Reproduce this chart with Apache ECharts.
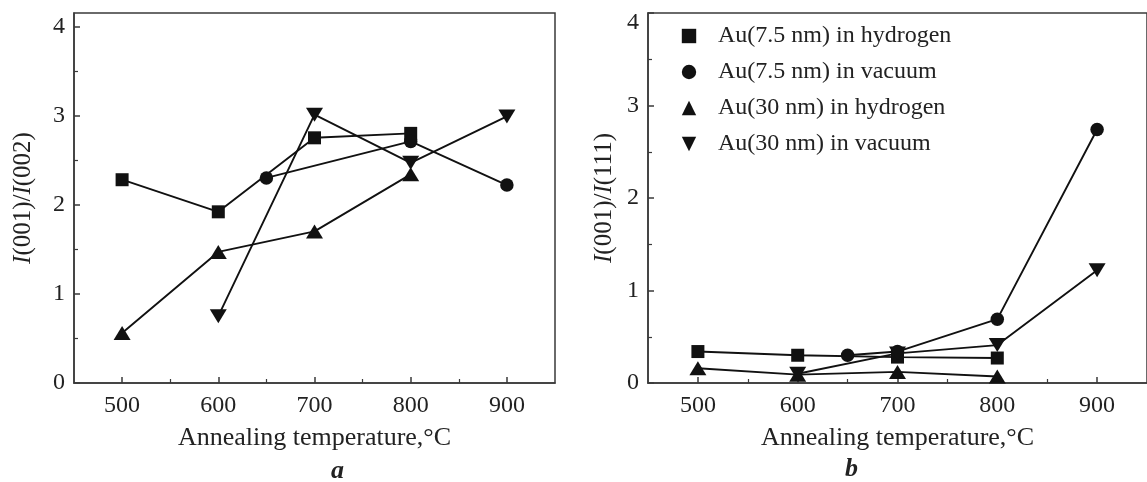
<!DOCTYPE html>
<html>
<head>
<meta charset="utf-8">
<script src="https://cdn.jsdelivr.net/npm/echarts@6/dist/echarts.min.js"></script>
<style>
html,body{margin:0;padding:0;background:#fff;}
#c{width:1147px;height:482px;}
</style>
</head>
<body>
<div id="c"></div>
<script>
// ---- data ----
var seriesNames = ['Au(7.5 nm) in hydrogen', 'Au(7.5 nm) in vacuum', 'Au(30 nm) in hydrogen', 'Au(30 nm) in vacuum'];
var xTicks = [500, 600, 700, 800, 900];
var xMinorTicks = [550, 650, 750, 850];
var yTicks = [0, 1, 2, 3, 4];
var yMinorTicks = [0.5, 1.5, 2.5, 3.5];

// panel a: I(001)/I(002)
var aTempH75 = [500, 600, 700, 800];  var aH75 = [2.28, 1.92, 2.75, 2.80];
var aTempV75 = [650, 800, 900];       var aV75 = [2.30, 2.71, 2.22];
var aTempH30 = [500, 600, 700, 800];  var aH30 = [0.56, 1.47, 1.70, 2.34];
var aTempV30 = [600, 700, 800, 900];  var aV30 = [0.75, 3.01, 2.47, 2.99];

// panel b: I(001)/I(111)
var bTempH75 = [500, 600, 700, 800];  var bH75 = [0.34, 0.30, 0.28, 0.27];
var bTempV75 = [650, 700, 800, 900];  var bV75 = [0.30, 0.34, 0.69, 2.74];
var bTempH30 = [500, 600, 700, 800];  var bH30 = [0.16, 0.09, 0.12, 0.07];
var bTempV30 = [600, 700, 800, 900];  var bV30 = [0.10, 0.32, 0.41, 1.22];

// ---- chart ----
var FONT = '"Liberation Serif", "DejaVu Serif", serif';
var INK = '#111';
var FRAME = '#3a3a3a';
var symbols = ['rect', 'circle', 'triangle', 'path://M0,0 L10,0 L5,8 Z'];
var symSizes = [13, 13.5, [17, 14], [17, 14]];

function pairs(xs, ys) { return xs.map(function (x, i) { return [x, ys[i]]; }); }

var chart = echarts.init(document.getElementById('c'), null, {renderer: 'canvas'});

function xAxes(gi) {
  return [{
    gridIndex: gi, type: 'value', min: 450, max: 950, position: 'bottom',
    name: 'Annealing temperature,°C', nameLocation: 'middle', nameGap: 42,
    nameTextStyle: {fontFamily: FONT, fontSize: 26, color: '#222'},
    axisLine: {show: true, lineStyle: {color: FRAME, width: 1.5}},
    axisTick: {show: true, inside: true, length: 6, customValues: xTicks, lineStyle: {color: FRAME, width: 1.5}},
    axisLabel: {customValues: xTicks, fontFamily: FONT, fontSize: 24, color: '#222', margin: 11},
    splitLine: {show: false}
  }, {
    gridIndex: gi, type: 'value', min: 450, max: 950, position: 'bottom',
    axisLine: {show: false},
    axisTick: {show: true, inside: true, length: 4, customValues: xMinorTicks, lineStyle: {color: FRAME, width: 1.2}},
    axisLabel: {show: false},
    splitLine: {show: false}
  }];
}
function yAxes(gi, max, nameRich, gap, shiftTop) {
  return [{
    gridIndex: gi, type: 'value', min: 0, max: max, position: 'left',
    name: nameRich, nameLocation: 'middle', nameGap: gap, nameRotate: 90,
    nameTextStyle: {fontFamily: FONT, fontSize: 25, color: '#222',
      rich: {i: {fontFamily: FONT, fontSize: 25, fontStyle: 'italic', color: '#222'}}},
    axisLine: {show: true, lineStyle: {color: FRAME, width: 1.5}},
    axisTick: {show: true, inside: true, length: 6, customValues: yTicks, lineStyle: {color: FRAME, width: 1.5}},
    axisLabel: {
      customValues: yTicks, fontFamily: FONT, fontSize: 24, color: '#222', margin: 9,
      formatter: function (v) { return (shiftTop && v === 4) ? '{t|4}' : String(v); },
      rich: {t: {fontFamily: FONT, fontSize: 24, color: '#222', padding: [20, 0, 0, 0]}}
    },
    splitLine: {show: false}
  }, {
    gridIndex: gi, type: 'value', min: 0, max: max, position: 'left',
    axisLine: {show: false},
    axisTick: {show: true, inside: true, length: 4, customValues: yMinorTicks, lineStyle: {color: FRAME, width: 1.2}},
    axisLabel: {show: false},
    splitLine: {show: false}
  }];
}

var aData = [pairs(aTempH75, aH75), pairs(aTempV75, aV75), pairs(aTempH30, aH30), pairs(aTempV30, aV30)];
var bData = [pairs(bTempH75, bH75), pairs(bTempV75, bV75), pairs(bTempH30, bH30), pairs(bTempV30, bV30)];

var series = [];
[aData, bData].forEach(function (set, gi) {
  set.forEach(function (d, k) {
    series.push({
      type: 'line', name: seriesNames[k],
      xAxisIndex: gi * 2, yAxisIndex: gi * 2,
      data: d, symbol: symbols[k], symbolSize: symSizes[k],
      showAllSymbol: true, animation: false,
      lineStyle: {color: INK, width: 1.9},
      itemStyle: {color: INK, borderWidth: 0},
      emphasis: {disabled: true},
      z: 3
    });
  });
});

var option = {
  backgroundColor: '#fff',
  animation: false,
  textStyle: {fontFamily: FONT},
  grid: [
    {left: 74, top: 13, width: 481, height: 370, show: true, borderColor: FRAME, borderWidth: 1.5, backgroundColor: 'transparent'},
    {left: 648, top: 13, width: 501, height: 370, show: true, borderColor: FRAME, borderWidth: 1.5, backgroundColor: 'transparent'}
  ],
  xAxis: xAxes(0).concat(xAxes(1)),
  yAxis: yAxes(0, 4.15, '{i|I}(001)/{i|I}(002)', 38, false).concat(yAxes(1, 4, '{i|I}(001)/{i|I}(111)', 31, true)),
  legend: {
    show: true, orient: 'vertical', left: 659, top: 19,
    itemWidth: 48, itemHeight: 18, itemGap: 12,
    data: seriesNames,
    selectedMode: false,
    textStyle: {fontFamily: FONT, fontSize: 24, color: '#222'},
    lineStyle: {opacity: 0},
    itemStyle: {color: INK}
  },
  graphic: [
    {type: 'text', left: 331, top: 458, style: {text: 'a', font: 'italic bold 26px ' + FONT, fill: '#222'}},
    {type: 'text', left: 845, top: 456, style: {text: 'b', font: 'italic bold 26px ' + FONT, fill: '#222'}}
  ],
  series: series
};
chart.setOption(option);
</script>
</body>
</html>
